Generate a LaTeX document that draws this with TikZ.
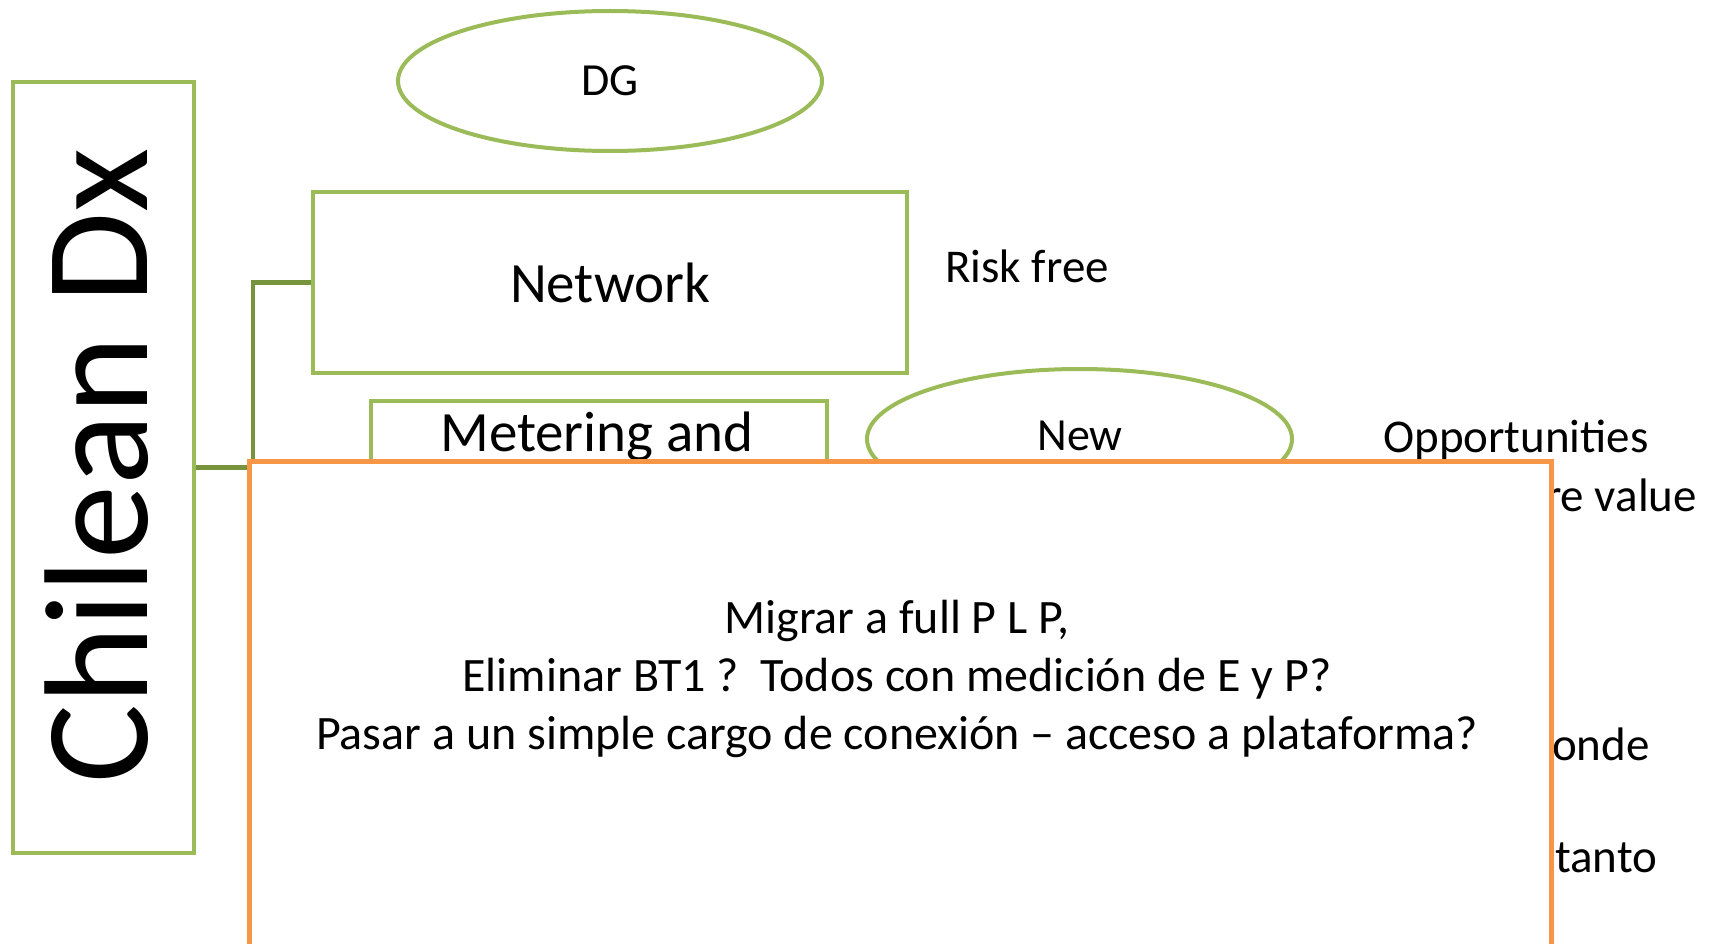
\documentclass[tikz,border=0pt]{standalone}
\usepackage{fontspec}
\setmainfont{Carlito}
\usetikzlibrary{shapes.geometric}
\definecolor{leaf}{HTML}{9BBB59}
\definecolor{olive}{HTML}{77933C}
\definecolor{tang}{HTML}{F79646}
\tikzset{
  greenbox/.style={draw=leaf, line width=4pt, rectangle, inner sep=0pt},
  greenoval/.style={draw=leaf, line width=4pt, ellipse, inner sep=0pt},
  conn/.style={draw=olive, line width=4.5pt},
  sidetext/.style={font=\fontsize{47}{56}\selectfont, inner sep=0pt},
  boxtext/.style={font=\fontsize{57}{68}\selectfont, inner sep=0pt},
  ovaltext/.style={font=\fontsize{46}{55}\selectfont, inner sep=0pt}
}
\begin{document}
\begin{tikzpicture}[x=1pt, y=-1pt]
\useasboundingbox (0,0) rectangle (1711,944);

% main vertical title box
\node[greenbox, minimum width=181pt, minimum height=771pt] (chilean) at (103.5,467.5) {};
\node[rotate=90, anchor=base, inner sep=0pt, font=\fontsize{148}{170}\selectfont] (title) at (147,466) {Chilean Dx};

% DG ellipse
\node[greenoval, minimum width=424pt, minimum height=140pt] (dg) at (610,81) {};
\node[ovaltext] (dgt) at (dg.center) {DG};

% Network box
\node[greenbox, minimum width=594pt, minimum height=181pt] (network) at (610,282.5) {};
\node[boxtext] (nett) at (network.center) {Network};

% Metering box
\node[greenbox, minimum width=456pt, minimum height=181pt, anchor=north west] (meter) at (369,399) {};
\node[boxtext, anchor=base] (metert) at (597,451) {Metering and};

% New ellipse
\node[greenoval, minimum width=425pt, minimum height=140pt] (new) at (1079.5,439) {};
\node[ovaltext, anchor=base] (newt) at (1080,450) {New};

% tree connector
\coordinate (trunk) at (253,0);
\draw[conn] (chilean.east) -| (trunk |- network.west) -- (network.west);

% right-hand notes
\node[sidetext, anchor=base west] (risk) at (945,283) {Risk free};
\node[sidetext, anchor=base west] (opp) at (1383,452) {Opportunities};
\node[sidetext, anchor=base east] (val) at (1697,511) {re value};
\node[sidetext, anchor=base west] (onde) at (1552,760) {onde};
\node[sidetext, anchor=base west] (tanto) at (1555,872) {tanto};

% foreground question box
\node[draw=tang, fill=white, line width=4.5pt, rectangle, inner sep=0pt,
      minimum width=1302pt, minimum height=520pt, anchor=north west] (quest) at (247,459) {};
\node[align=center, inner sep=0pt, font=\fontsize{48}{58}\selectfont] (questt) at (897,679)
  {Migrar a full P L P,\\
   Eliminar BT1 ?\ \ Todos con medición de E y P?\\
   Pasar a un simple cargo de conexión – acceso a plataforma?};
\end{tikzpicture}
\end{document}
